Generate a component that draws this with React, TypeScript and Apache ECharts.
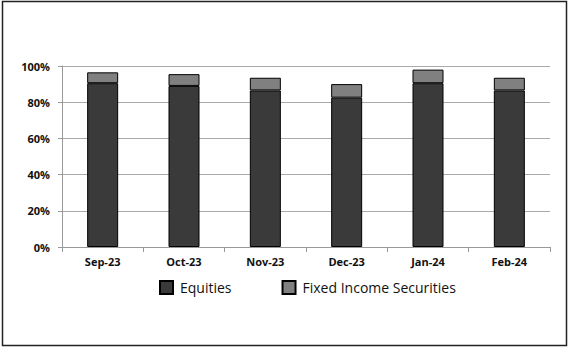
import React, { useEffect, useRef } from "react";
import * as echarts from "echarts";

const categories = ["Sep-23", "Oct-23", "Nov-23", "Dec-23", "Jan-24", "Feb-24"];
const equities = [90.5, 89, 86.5, 82.5, 90.5, 86.5];
const fixedIncome = [6, 6.5, 7, 7.5, 7.5, 7];
const seriesNames = ["Equities", "Fixed Income Securities"];

export default function App() {
  const ref = useRef<HTMLDivElement>(null);
  useEffect(() => {
    document.body.style.margin = "0";
    const chart = echarts.init(ref.current!, null, { renderer: "svg" });
    const font = "'Open Sans', 'Noto Sans', sans-serif";
    chart.setOption({
      animation: false,
      backgroundColor: "#fff",
      graphic: [
        {
          type: "rect",
          shape: { x: 2.5, y: 1.5, width: 564, height: 344 },
          style: { fill: "none", stroke: "#222", lineWidth: 1.5 },
          z: 100,
        },
      ],
      grid: { left: 62, right: 20, top: 66, bottom: 102 },
      legend: {
        data: seriesNames,
        top: 275,
        left: 154,
        itemWidth: 13,
        itemHeight: 13,
        itemGap: 50,
        icon: "rect",
        textStyle: { fontFamily: font, fontSize: 14, color: "#111", padding: [0, 0, 0, 2] },
      },
      xAxis: {
        type: "category",
        data: categories,
        axisLine: { lineStyle: { color: "#999" } },
        axisTick: { show: true, length: 5, lineStyle: { color: "#999" } },
        axisLabel: {
          fontFamily: font,
          fontWeight: "bold",
          fontSize: 11,
          color: "#111",
          margin: 9,
        },
      },
      yAxis: {
        type: "value",
        min: 0,
        max: 100,
        interval: 20,
        axisLine: { show: true, lineStyle: { color: "#999" } },
        axisTick: { show: true, length: 4, lineStyle: { color: "#999" } },
        splitLine: { lineStyle: { color: "#aaa" } },
        axisLabel: {
          formatter: "{value}%",
          fontFamily: font,
          fontWeight: "bold",
          fontSize: 11,
          color: "#111",
          margin: 12,
        },
      },
      series: [
        {
          name: seriesNames[0],
          type: "bar",
          stack: "total",
          data: equities,
          barWidth: 31,
          itemStyle: { color: "#3a3a3a", borderColor: "#000", borderWidth: 1 },
        },
        {
          name: seriesNames[1],
          type: "bar",
          stack: "total",
          data: fixedIncome,
          barWidth: 31,
          itemStyle: { color: "#808080", borderColor: "#000", borderWidth: 1 },
        },
      ],
    });
    return () => chart.dispose();
  }, []);
  return <div ref={ref} style={{ width: 570, height: 349 }} />;
}
